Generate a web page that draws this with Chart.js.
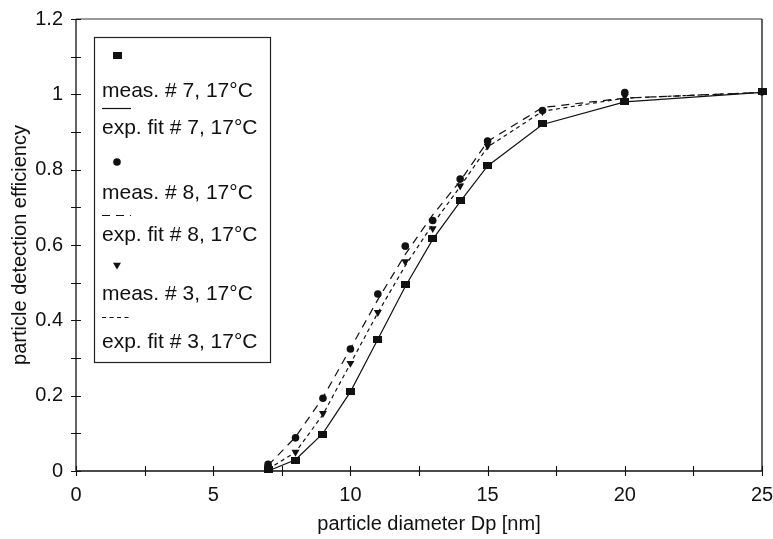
<!DOCTYPE html>
<html>
<head>
<meta charset="utf-8">
<script src="https://cdn.jsdelivr.net/npm/chart.js@4.4.0/dist/chart.umd.min.js"></script>
<style>
  html, body { margin: 0; padding: 0; background: #ffffff; }
  #wrap { width: 773px; height: 539px; }
</style>
</head>
<body>
<div id="wrap"><canvas id="c" width="773" height="539"></canvas></div>
<script>
// Particle diameters (nm) at which efficiency was measured
const diameters = [7, 8, 9, 10, 11, 12, 13, 14, 15, 17, 20, 25];

// Measured detection efficiencies
const meas7 = [0.003, 0.027, 0.096, 0.21, 0.35, 0.495, 0.617, 0.718, 0.812, 0.922, 0.98, 1.007];
const meas8 = [0.018, 0.088, 0.193, 0.324, 0.47, 0.597, 0.665, 0.775, 0.876, 0.957, 1.005, 1.007];
const meas3 = [0.01, 0.05, 0.153, 0.286, 0.421, 0.556, 0.644, 0.757, 0.863, 0.955, 0.995, 1.007];

// Exponential fit curves evaluated at the same diameters
const fit7 = [0.0, 0.03, 0.1, 0.21, 0.35, 0.49, 0.615, 0.715, 0.81, 0.92, 0.98, 1.005];
const fit8 = [0.015, 0.09, 0.195, 0.325, 0.455, 0.575, 0.68, 0.77, 0.875, 0.965, 0.99, 1.005];
const fit3 = [0.005, 0.05, 0.15, 0.285, 0.42, 0.545, 0.655, 0.755, 0.86, 0.955, 0.99, 1.005];

// Series labels
const seriesLabels = [
  'meas. # 7, 17°C', 'exp. fit # 7, 17°C',
  'meas. # 8, 17°C', 'exp. fit # 8, 17°C',
  'meas. # 3, 17°C', 'exp. fit # 3, 17°C'
];

// Axis ticks and titles
const xTickValues = [0, 5, 10, 15, 20, 25];
const xMinorTicks = [2.5, 7.5, 12.5, 17.5, 22.5];
const yTickValues = [0, 0.2, 0.4, 0.6, 0.8, 1.0, 1.2];
const yMinorTicks = [0.1, 0.3, 0.5, 0.7, 0.9, 1.1];
const xTitle = 'particle diameter Dp [nm]';
const yTitle = 'particle detection efficiency';

const INK = '#111111';
const FONT = "'Liberation Sans', Arial, sans-serif";

const pts = ys => diameters.map((d, i) => ({ x: d, y: ys[i] }));

// Slightly wide square marker
function squareMarker() {
  const c = document.createElement('canvas');
  c.width = 9; c.height = 7;
  const g = c.getContext('2d');
  g.fillStyle = INK;
  g.fillRect(0, 0, 9, 7);
  return c;
}
const sq = squareMarker();

const markerSet = { showLine: false, borderWidth: 0, backgroundColor: INK, borderColor: INK, clip: false };
const lineSet = { showLine: true, pointRadius: 0, borderColor: INK, borderWidth: 1.2, tension: 0, clip: false, fill: false };

const datasets = [
  Object.assign({ label: seriesLabels[0], data: pts(meas7), pointStyle: sq, pointRadius: 5 }, markerSet),
  Object.assign({ label: seriesLabels[1], data: pts(fit7), borderDash: [] }, lineSet),
  Object.assign({ label: seriesLabels[2], data: pts(meas8), pointStyle: 'circle', pointRadius: 3.8 }, markerSet),
  Object.assign({ label: seriesLabels[3], data: pts(fit8), borderDash: [8, 6] }, lineSet),
  Object.assign({ label: seriesLabels[4], data: pts(meas3), pointStyle: 'triangle', pointRadius: 4.6, pointRotation: 180 }, markerSet),
  Object.assign({ label: seriesLabels[5], data: pts(fit3), borderDash: [4, 3.5] }, lineSet)
];

// Frame, crossing tick marks and x-axis title
const axisFrame = {
  id: 'axisFrame',
  afterDraw(chart) {
    const { ctx, chartArea: a, scales: { x, y } } = chart;
    ctx.save();
    ctx.lineWidth = 1.3;
    ctx.strokeStyle = '#777777';
    ctx.beginPath();
    ctx.moveTo(a.left, a.top); ctx.lineTo(a.right, a.top);
    ctx.stroke();
    ctx.strokeStyle = INK;
    ctx.beginPath();
    ctx.moveTo(a.left, a.top); ctx.lineTo(a.left, a.bottom);
    ctx.lineTo(a.right, a.bottom); ctx.lineTo(a.right, a.top);
    ctx.stroke();
    ctx.lineWidth = 1.1;
    ctx.beginPath();
    xTickValues.concat(xMinorTicks).forEach(v => {
      const px = Math.round(x.getPixelForValue(v)) + 0.5;
      ctx.moveTo(px, a.bottom - 5); ctx.lineTo(px, a.bottom + 5);
    });
    yTickValues.concat(yMinorTicks).forEach(v => {
      const py = Math.round(y.getPixelForValue(v)) + 0.5;
      ctx.moveTo(a.left - 5, py); ctx.lineTo(a.left + 5, py);
    });
    ctx.stroke();
    ctx.fillStyle = INK;
    ctx.font = '20px ' + FONT;
    ctx.textAlign = 'center';
    ctx.textBaseline = 'middle';
    ctx.fillText(xTitle, (a.left + a.right) / 2 + 10, chart.height - 15);
    ctx.restore();
  }
};

// Boxed legend: each sample sits above its label
const legendTextY = [91, 128, 193, 235, 294, 342];
const legendSampleY = [55, 108, 162, 215, 265, 317];
const legendBox = {
  id: 'legendBox',
  afterDatasetsDraw(chart) {
    const ctx = chart.ctx;
    const left = 94, top = 37, w = 176, h = 325;
    ctx.save();
    ctx.fillStyle = '#ffffff';
    ctx.fillRect(left, top, w, h);
    ctx.strokeStyle = '#222222';
    ctx.lineWidth = 1.2;
    ctx.strokeRect(left + 0.5, top + 0.5, w, h);
    ctx.font = '21px ' + FONT;
    ctx.textBaseline = 'middle';
    ctx.textAlign = 'left';
    chart.data.datasets.forEach((ds, i) => {
      ctx.fillStyle = INK;
      ctx.strokeStyle = INK;
      if (ds.showLine) {
        const sy = legendSampleY[i] + 0.5;
        ctx.lineWidth = ds.borderWidth;
        ctx.setLineDash(ds.borderDash || []);
        ctx.beginPath();
        ctx.moveTo(102, sy); ctx.lineTo(131, sy);
        ctx.stroke();
        ctx.setLineDash([]);
      } else {
        Chart.helpers.drawPoint(ctx, {
          pointStyle: ds.pointStyle, radius: ds.pointRadius,
          rotation: ds.pointRotation || 0, borderWidth: 0
        }, 117, legendSampleY[i]);
      }
      ctx.fillStyle = INK;
      ctx.fillText(ds.label, 102, legendTextY[i]);
    });
    ctx.restore();
  }
};

new Chart(document.getElementById('c'), {
  type: 'scatter',
  data: { datasets },
  options: {
    responsive: false,
    animation: false,
    devicePixelRatio: 1,
    layout: { padding: { top: 19, right: 11, left: 0, bottom: 0 } },
    plugins: { legend: { display: false }, tooltip: { enabled: false } },
    scales: {
      x: {
        type: 'linear', min: 0, max: 25,
        afterFit(s) { s.height = 68; s.paddingLeft = 0; s.paddingRight = 0; },
        afterBuildTicks(s) { s.ticks = xTickValues.map(v => ({ value: v })); },
        grid: { display: false, drawTicks: false },
        border: { display: false },
        ticks: { padding: 12, color: INK, font: { family: FONT, size: 20 } }
      },
      y: {
        type: 'linear', min: 0, max: 1.2,
        afterFit(s) { s.width = 76; s.paddingTop = 0; s.paddingBottom = 0; },
        afterBuildTicks(s) { s.ticks = yTickValues.map(v => ({ value: v })); },
        grid: { display: false, drawTicks: false },
        border: { display: false },
        ticks: { padding: 13, color: INK, font: { family: FONT, size: 20 },
                 callback: v => String(Number(v.toFixed(1))) },
        title: { display: true, text: yTitle, color: INK,
                 font: { family: FONT, size: 20 }, padding: { top: 8, bottom: 0 } }
      }
    }
  },
  plugins: [legendBox, axisFrame]
});
</script>
</body>
</html>
